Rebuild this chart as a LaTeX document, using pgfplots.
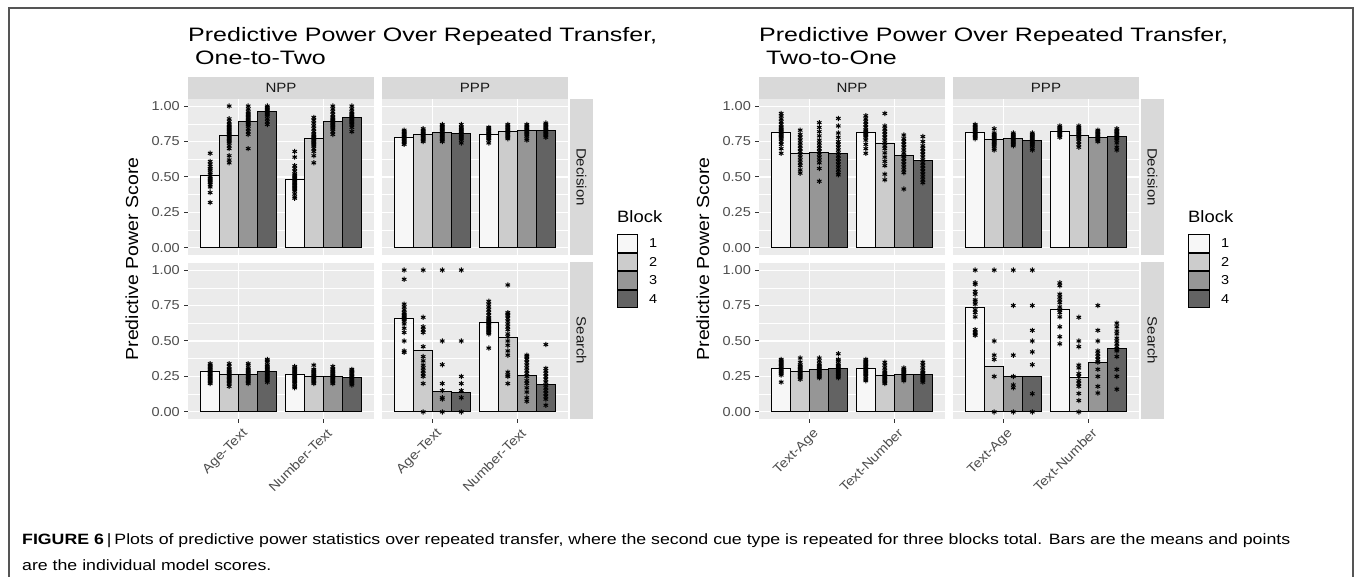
\documentclass[border=0pt]{standalone}
\usepackage{fontspec}
\setmainfont{Liberation Sans}[FakeStretch=1.12]
\newfontfamily\capfont{Liberation Sans}
\usepackage{graphicx}
\usepackage{pgfplots}
\pgfplotsset{compat=1.18}
\definecolor{panelbg}{HTML}{EBEBEB}
\definecolor{stripbg}{HTML}{D9D9D9}
\definecolor{tickc}{HTML}{333333}
\definecolor{tickl}{HTML}{4D4D4D}
\definecolor{stript}{HTML}{1A1A1A}
\definecolor{frame}{HTML}{555555}
\definecolor{b1}{HTML}{F7F7F7}
\definecolor{b2}{HTML}{CCCCCC}
\definecolor{b3}{HTML}{969696}
\definecolor{b4}{HTML}{636363}
\newcommand\fs[1]{\fontsize{#1}{#1}\selectfont}
\newcommand\ptitle[1]{\resizebox{469bp}{\height}{\fontsize{19.5}{23}\selectfont\begin{tabular}[t]{@{}l@{}}Predictive Power Over Repeated Transfer,\\\ #1\end{tabular}}}
\pgfplotsset{
 gpanel/.style={
  scale only axis, width=186bp, height=156bp,
  xmin=0.4, xmax=2.6, ymin=-0.05, ymax=1.05,
  axis background/.style={fill=panelbg},
  axis line style={draw=none},
  xtick={1,2}, ytick={0,0.25,0.5,0.75,1},
  minor ytick={0.125,0.375,0.625,0.875},
  xmajorgrids, ymajorgrids, yminorgrids,
  major grid style={draw=white, line width=1.1bp},
  minor grid style={draw=white, line width=0.55bp},
  tick align=outside, tick pos=left,
  major tick length=4bp, minor tick length=0pt,
  tick style={draw=tickc, line width=1bp},
  minor tick style={draw=none},
  xticklabels={}, yticklabels={},
  /pgf/number format/assume math mode=true,
  anchor=south west,
 },
 noxt/.style={xtick style={draw=none}},
 noyt/.style={ytick style={draw=none}},
 ylab/.style={yticklabels={0.00,0.25,0.50,0.75,1.00},
   yticklabel style={font=\fs{13}, text=tickl, inner sep=1bp, xshift=-3bp}},
 xlab/.style={xticklabels={#1},
   xticklabel style={font=\fs{13}, text=tickl, rotate=45, anchor=north east, inner sep=1bp, yshift=-4bp}},
 bar1/.style={ybar, bar width=0.225, bar shift=0pt, fill=b1, draw=black, line width=1bp},
 bar2/.style={ybar, bar width=0.225, bar shift=0pt, fill=b2, draw=black, line width=1bp},
 bar3/.style={ybar, bar width=0.225, bar shift=0pt, fill=b3, draw=black, line width=1bp},
 bar4/.style={ybar, bar width=0.225, bar shift=0pt, fill=b4, draw=black, line width=1bp},
 pts/.style={only marks, mark=asterisk, mark size=2.6bp, mark options={draw=black, line width=1bp}},
}
\begin{document}
\begin{tikzpicture}[x=1bp,y=1bp]
\useasboundingbox (0,0) rectangle (1355,577);
% frame
\draw[frame, line width=1.5bp] (9,0) -- (9,569) -- (1353,569) -- (1353,0);

% ================= LEFT CHART =================
\node[anchor=base west, inner sep=0] at (188,535) {\ptitle{One-to-Two}};
\node[rotate=90] at (132,318) {\fs{17.5}Predictive Power Score};
% strips
\fill[stripbg] (188,478) rectangle (374,500);
\fill[stripbg] (382,478) rectangle (568,500);
\node[text=stript] at (281,489) {\fs{13.5}NPP};
\node[text=stript] at (475,489) {\fs{13.5}PPP};
\fill[stripbg] (570,322) rectangle (593,478);
\fill[stripbg] (570,158) rectangle (593,315);
\node[text=stript, rotate=-90] at (581.5,400) {\fs{13.5}Decision};
\node[text=stript, rotate=-90] at (581.5,236.5) {\fs{13.5}Search};

% Decision NPP
\begin{axis}[gpanel, at={(188bp,322bp)}, noxt, ylab]
\addplot[bar1] coordinates {(0.6625,0.510) (1.6625,0.484)};
\addplot[bar2] coordinates {(0.8875,0.796) (1.8875,0.772)};
\addplot[bar3] coordinates {(1.1125,0.894) (2.1125,0.894)};
\addplot[bar4] coordinates {(1.3375,0.960) (2.3375,0.918)};
\addplot[pts] coordinates {(0.6625,0.667)(0.6625,0.61)(0.6625,0.59)(0.6625,0.574)(0.6625,0.56)(0.6625,0.55)(0.6625,0.53)(0.6625,0.52)(0.6625,0.50)(0.6625,0.49)(0.6625,0.48)(0.6625,0.47)(0.6625,0.46)(0.6625,0.445)(0.6625,0.43)(0.6625,0.39)(0.6625,0.32)
(0.8875,1.0)(0.8875,0.91)(0.8875,0.89)(0.8875,0.87)(0.8875,0.86)(0.8875,0.85)(0.8875,0.84)(0.8875,0.83)(0.8875,0.82)(0.8875,0.81)(0.8875,0.80)(0.8875,0.79)(0.8875,0.78)(0.8875,0.77)(0.8875,0.76)(0.8875,0.75)(0.8875,0.74)(0.8875,0.72)(0.8875,0.70)(0.8875,0.65)(0.8875,0.62)(0.8875,0.60)
(1.1125,1.0)(1.1125,0.98)(1.1125,0.96)(1.1125,0.95)(1.1125,0.94)(1.1125,0.93)(1.1125,0.92)(1.1125,0.91)(1.1125,0.90)(1.1125,0.89)(1.1125,0.88)(1.1125,0.87)(1.1125,0.86)(1.1125,0.84)(1.1125,0.82)(1.1125,0.80)(1.1125,0.70)
(1.3375,1.0)(1.3375,0.99)(1.3375,0.98)(1.3375,0.97)(1.3375,0.96)(1.3375,0.95)(1.3375,0.94)(1.3375,0.93)(1.3375,0.91)(1.3375,0.89)(1.3375,0.87)
(1.6625,0.68)(1.6625,0.64)(1.6625,0.58)(1.6625,0.56)(1.6625,0.54)(1.6625,0.52)(1.6625,0.51)(1.6625,0.50)(1.6625,0.49)(1.6625,0.48)(1.6625,0.47)(1.6625,0.46)(1.6625,0.45)(1.6625,0.44)(1.6625,0.43)(1.6625,0.42)(1.6625,0.41)(1.6625,0.40)(1.6625,0.38)(1.6625,0.36)(1.6625,0.35)
(1.8875,0.92)(1.8875,0.90)(1.8875,0.88)(1.8875,0.86)(1.8875,0.84)(1.8875,0.82)(1.8875,0.80)(1.8875,0.79)(1.8875,0.78)(1.8875,0.77)(1.8875,0.76)(1.8875,0.75)(1.8875,0.74)(1.8875,0.73)(1.8875,0.72)(1.8875,0.70)(1.8875,0.68)(1.8875,0.65)(1.8875,0.60)
(2.1125,1.0)(2.1125,0.98)(2.1125,0.96)(2.1125,0.94)(2.1125,0.92)(2.1125,0.91)(2.1125,0.90)(2.1125,0.89)(2.1125,0.88)(2.1125,0.87)(2.1125,0.86)(2.1125,0.85)(2.1125,0.84)(2.1125,0.82)(2.1125,0.80)
(2.3375,1.0)(2.3375,0.98)(2.3375,0.96)(2.3375,0.95)(2.3375,0.94)(2.3375,0.93)(2.3375,0.92)(2.3375,0.91)(2.3375,0.90)(2.3375,0.89)(2.3375,0.88)(2.3375,0.87)(2.3375,0.85)(2.3375,0.82)};
\end{axis}

% Decision PPP
\begin{axis}[gpanel, at={(382bp,322bp)}, noxt, noyt]
\addplot[bar1] coordinates {(0.6625,0.780) (1.6625,0.800)};
\addplot[bar2] coordinates {(0.8875,0.800) (1.8875,0.820)};
\addplot[bar3] coordinates {(1.1125,0.815) (2.1125,0.827)};
\addplot[bar4] coordinates {(1.3375,0.808) (2.3375,0.831)};
\addplot[pts] coordinates {(0.6625,0.83)(0.6625,0.82)(0.6625,0.81)(0.6625,0.80)(0.6625,0.79)(0.6625,0.78)(0.6625,0.77)(0.6625,0.76)(0.6625,0.75)(0.6625,0.74)(0.6625,0.73)
(0.8875,0.84)(0.8875,0.83)(0.8875,0.82)(0.8875,0.81)(0.8875,0.80)(0.8875,0.79)(0.8875,0.78)(0.8875,0.77)(0.8875,0.76)(0.8875,0.75)
(1.1125,0.87)(1.1125,0.86)(1.1125,0.85)(1.1125,0.84)(1.1125,0.83)(1.1125,0.82)(1.1125,0.81)(1.1125,0.80)(1.1125,0.79)(1.1125,0.78)(1.1125,0.77)(1.1125,0.76)(1.1125,0.75)
(1.3375,0.87)(1.3375,0.85)(1.3375,0.84)(1.3375,0.83)(1.3375,0.82)(1.3375,0.81)(1.3375,0.80)(1.3375,0.79)(1.3375,0.78)(1.3375,0.77)(1.3375,0.76)(1.3375,0.74)
(1.6625,0.85)(1.6625,0.84)(1.6625,0.83)(1.6625,0.82)(1.6625,0.81)(1.6625,0.80)(1.6625,0.79)(1.6625,0.78)(1.6625,0.77)(1.6625,0.76)(1.6625,0.74)
(1.8875,0.87)(1.8875,0.86)(1.8875,0.85)(1.8875,0.84)(1.8875,0.83)(1.8875,0.82)(1.8875,0.81)(1.8875,0.80)(1.8875,0.79)(1.8875,0.78)(1.8875,0.77)
(2.1125,0.87)(2.1125,0.86)(2.1125,0.85)(2.1125,0.84)(2.1125,0.83)(2.1125,0.82)(2.1125,0.81)(2.1125,0.80)(2.1125,0.79)(2.1125,0.77)(2.1125,0.76)
(2.3375,0.88)(2.3375,0.87)(2.3375,0.86)(2.3375,0.85)(2.3375,0.84)(2.3375,0.83)(2.3375,0.82)(2.3375,0.81)(2.3375,0.80)(2.3375,0.79)(2.3375,0.78)};
\end{axis}

% Search NPP
\begin{axis}[gpanel, at={(188bp,158bp)}, ylab, xlab={Age-Text,Number-Text}]
\addplot[bar1] coordinates {(0.6625,0.284) (1.6625,0.263)};
\addplot[bar2] coordinates {(0.8875,0.265) (1.8875,0.253)};
\addplot[bar3] coordinates {(1.1125,0.267) (2.1125,0.249)};
\addplot[bar4] coordinates {(1.3375,0.288) (2.3375,0.244)};
\addplot[pts] coordinates {(0.6625,0.34)(0.6625,0.33)(0.6625,0.32)(0.6625,0.31)(0.6625,0.30)(0.6625,0.29)(0.6625,0.28)(0.6625,0.27)(0.6625,0.26)(0.6625,0.25)(0.6625,0.24)(0.6625,0.23)(0.6625,0.22)(0.6625,0.21)(0.6625,0.20)
(0.8875,0.34)(0.8875,0.32)(0.8875,0.30)(0.8875,0.29)(0.8875,0.28)(0.8875,0.27)(0.8875,0.26)(0.8875,0.25)(0.8875,0.24)(0.8875,0.23)(0.8875,0.22)(0.8875,0.21)(0.8875,0.20)(0.8875,0.18)
(1.1125,0.34)(1.1125,0.33)(1.1125,0.31)(1.1125,0.30)(1.1125,0.29)(1.1125,0.28)(1.1125,0.27)(1.1125,0.26)(1.1125,0.25)(1.1125,0.24)(1.1125,0.23)(1.1125,0.22)(1.1125,0.21)(1.1125,0.20)
(1.3375,0.37)(1.3375,0.36)(1.3375,0.35)(1.3375,0.33)(1.3375,0.32)(1.3375,0.31)(1.3375,0.30)(1.3375,0.29)(1.3375,0.28)(1.3375,0.27)(1.3375,0.26)(1.3375,0.25)(1.3375,0.24)(1.3375,0.23)(1.3375,0.22)(1.3375,0.21)
(1.6625,0.32)(1.6625,0.31)(1.6625,0.30)(1.6625,0.29)(1.6625,0.28)(1.6625,0.27)(1.6625,0.26)(1.6625,0.25)(1.6625,0.24)(1.6625,0.23)(1.6625,0.22)(1.6625,0.21)(1.6625,0.20)(1.6625,0.18)(1.6625,0.17)
(1.8875,0.33)(1.8875,0.30)(1.8875,0.29)(1.8875,0.28)(1.8875,0.27)(1.8875,0.26)(1.8875,0.25)(1.8875,0.24)(1.8875,0.23)(1.8875,0.22)(1.8875,0.21)(1.8875,0.20)
(2.1125,0.32)(2.1125,0.30)(2.1125,0.29)(2.1125,0.28)(2.1125,0.27)(2.1125,0.26)(2.1125,0.25)(2.1125,0.24)(2.1125,0.23)(2.1125,0.22)(2.1125,0.21)(2.1125,0.20)
(2.3375,0.30)(2.3375,0.29)(2.3375,0.28)(2.3375,0.27)(2.3375,0.26)(2.3375,0.25)(2.3375,0.24)(2.3375,0.23)(2.3375,0.22)(2.3375,0.21)(2.3375,0.20)(2.3375,0.19)};
\end{axis}

% Search PPP
\begin{axis}[gpanel, at={(382bp,158bp)}, noyt, xlab={Age-Text,Number-Text}]
\addplot[bar1] coordinates {(0.6625,0.658) (1.6625,0.628)};
\addplot[bar2] coordinates {(0.8875,0.430) (1.8875,0.528)};
\addplot[bar3] coordinates {(1.1125,0.147) (2.1125,0.260)};
\addplot[bar4] coordinates {(1.3375,0.135) (2.3375,0.190)};
\addplot[pts] coordinates {(0.6625,1.0)(0.6625,0.935)(0.6625,0.76)(0.6625,0.74)(0.6625,0.72)(0.6625,0.70)(0.6625,0.69)(0.6625,0.68)(0.6625,0.67)(0.6625,0.66)(0.6625,0.65)(0.6625,0.64)(0.6625,0.62)(0.6625,0.59)(0.6625,0.56)(0.6625,0.50)(0.6625,0.43)(0.6625,0.42)
(0.8875,1.0)(0.8875,0.667)(0.8875,0.60)(0.8875,0.58)(0.8875,0.56)(0.8875,0.46)(0.8875,0.39)(0.8875,0.36)(0.8875,0.33)(0.8875,0.31)(0.8875,0.29)(0.8875,0.27)(0.8875,0.25)(0.8875,0.20)(0.8875,0.0)
(1.1125,1.0)(1.1125,0.5)(1.1125,0.333)(1.1125,0.2)(1.1125,0.15)(1.1125,0.1)(1.1125,0.09)(1.1125,0.0)
(1.3375,1.0)(1.3375,0.5)(1.3375,0.25)(1.3375,0.2)(1.3375,0.15)(1.3375,0.1)(1.3375,0.0)
(1.6625,0.78)(1.6625,0.76)(1.6625,0.74)(1.6625,0.72)(1.6625,0.70)(1.6625,0.68)(1.6625,0.66)(1.6625,0.65)(1.6625,0.64)(1.6625,0.63)(1.6625,0.62)(1.6625,0.61)(1.6625,0.60)(1.6625,0.59)(1.6625,0.58)(1.6625,0.57)(1.6625,0.56)(1.6625,0.55)(1.6625,0.45)
(1.8875,0.895)(1.8875,0.70)(1.8875,0.69)(1.8875,0.68)(1.8875,0.66)(1.8875,0.64)(1.8875,0.62)(1.8875,0.60)(1.8875,0.58)(1.8875,0.55)(1.8875,0.53)(1.8875,0.50)(1.8875,0.47)(1.8875,0.43)(1.8875,0.40)(1.8875,0.28)(1.8875,0.26)(1.8875,0.25)(1.8875,0.20)
(2.1125,0.40)(2.1125,0.39)(2.1125,0.37)(2.1125,0.35)(2.1125,0.33)(2.1125,0.31)(2.1125,0.29)(2.1125,0.27)(2.1125,0.25)(2.1125,0.22)(2.1125,0.20)(2.1125,0.17)(2.1125,0.14)(2.1125,0.10)(2.1125,0.075)
(2.3375,0.475)(2.3375,0.307)(2.3375,0.29)(2.3375,0.27)(2.3375,0.25)(2.3375,0.23)(2.3375,0.21)(2.3375,0.19)(2.3375,0.17)(2.3375,0.15)(2.3375,0.13)(2.3375,0.11)(2.3375,0.09)(2.3375,0.047)};
\end{axis}

% legend left
\node[anchor=west, inner sep=0] at (617,360) {\fs{16.5}Block};
\foreach \c/\yt/\yb/\l in {b1/343/324.5/1, b2/324.5/306/2, b3/306/287.5/3, b4/287.5/269/4}{
  \filldraw[fill=\c, draw=black, line width=0.9bp] (617.5,\yb+0.5) rectangle (637.5,\yt-0.5);
  \node[anchor=west, inner sep=0] at (649,{(\yt+\yb)/2}) {\fs{13}\l};
}

% ================= RIGHT CHART =================
\node[anchor=base west, inner sep=0] at (759,535) {\ptitle{Two-to-One}};
\node[rotate=90] at (703,318) {\fs{17.5}Predictive Power Score};
\fill[stripbg] (759,478) rectangle (945,500);
\fill[stripbg] (953,478) rectangle (1139,500);
\node[text=stript] at (852,489) {\fs{13.5}NPP};
\node[text=stript] at (1046,489) {\fs{13.5}PPP};
\fill[stripbg] (1141,322) rectangle (1164,478);
\fill[stripbg] (1141,158) rectangle (1164,315);
\node[text=stript, rotate=-90] at (1152.5,400) {\fs{13.5}Decision};
\node[text=stript, rotate=-90] at (1152.5,236.5) {\fs{13.5}Search};

% Decision NPP
\begin{axis}[gpanel, at={(759bp,322bp)}, noxt, ylab]
\addplot[bar1] coordinates {(0.6625,0.813) (1.6625,0.813)};
\addplot[bar2] coordinates {(0.8875,0.667) (1.8875,0.733)};
\addplot[bar3] coordinates {(1.1125,0.672) (2.1125,0.653)};
\addplot[bar4] coordinates {(1.3375,0.667) (2.3375,0.614)};
\addplot[pts] coordinates {(0.6625,0.948)(0.6625,0.93)(0.6625,0.91)(0.6625,0.89)(0.6625,0.87)(0.6625,0.85)(0.6625,0.84)(0.6625,0.83)(0.6625,0.82)(0.6625,0.81)(0.6625,0.80)(0.6625,0.79)(0.6625,0.78)(0.6625,0.77)(0.6625,0.75)(0.6625,0.73)(0.6625,0.70)(0.6625,0.667)
(0.8875,0.83)(0.8875,0.80)(0.8875,0.78)(0.8875,0.76)(0.8875,0.74)(0.8875,0.72)(0.8875,0.70)(0.8875,0.68)(0.8875,0.66)(0.8875,0.64)(0.8875,0.62)(0.8875,0.60)(0.8875,0.58)(0.8875,0.55)(0.8875,0.527)
(1.1125,0.883)(1.1125,0.85)(1.1125,0.82)(1.1125,0.79)(1.1125,0.76)(1.1125,0.74)(1.1125,0.72)(1.1125,0.70)(1.1125,0.68)(1.1125,0.66)(1.1125,0.64)(1.1125,0.62)(1.1125,0.60)(1.1125,0.56)(1.1125,0.47)
(1.3375,0.913)(1.3375,0.86)(1.3375,0.81)(1.3375,0.78)(1.3375,0.75)(1.3375,0.73)(1.3375,0.71)(1.3375,0.69)(1.3375,0.67)(1.3375,0.65)(1.3375,0.63)(1.3375,0.61)(1.3375,0.59)(1.3375,0.57)(1.3375,0.55)(1.3375,0.53)(1.3375,0.515)
(1.6625,0.932)(1.6625,0.91)(1.6625,0.89)(1.6625,0.87)(1.6625,0.85)(1.6625,0.83)(1.6625,0.82)(1.6625,0.81)(1.6625,0.80)(1.6625,0.79)(1.6625,0.78)(1.6625,0.76)(1.6625,0.73)(1.6625,0.70)(1.6625,0.667)
(1.8875,0.948)(1.8875,0.86)(1.8875,0.84)(1.8875,0.82)(1.8875,0.80)(1.8875,0.78)(1.8875,0.76)(1.8875,0.74)(1.8875,0.72)(1.8875,0.70)(1.8875,0.67)(1.8875,0.64)(1.8875,0.61)(1.8875,0.58)(1.8875,0.52)(1.8875,0.48)
(2.1125,0.796)(2.1125,0.77)(2.1125,0.75)(2.1125,0.73)(2.1125,0.71)(2.1125,0.69)(2.1125,0.67)(2.1125,0.65)(2.1125,0.63)(2.1125,0.61)(2.1125,0.59)(2.1125,0.57)(2.1125,0.55)(2.1125,0.53)(2.1125,0.415)
(2.3375,0.785)(2.3375,0.75)(2.3375,0.72)(2.3375,0.70)(2.3375,0.68)(2.3375,0.66)(2.3375,0.64)(2.3375,0.62)(2.3375,0.60)(2.3375,0.58)(2.3375,0.56)(2.3375,0.54)(2.3375,0.52)(2.3375,0.50)(2.3375,0.48)(2.3375,0.46)};
\end{axis}

% Decision PPP
\begin{axis}[gpanel, at={(953bp,322bp)}, noxt, noyt]
\addplot[bar1] coordinates {(0.6625,0.817) (1.6625,0.824)};
\addplot[bar2] coordinates {(0.8875,0.761) (1.8875,0.792)};
\addplot[bar3] coordinates {(1.1125,0.770) (2.1125,0.780)};
\addplot[bar4] coordinates {(1.3375,0.754) (2.3375,0.785)};
\addplot[pts] coordinates {(0.6625,0.87)(0.6625,0.86)(0.6625,0.85)(0.6625,0.84)(0.6625,0.83)(0.6625,0.82)(0.6625,0.81)(0.6625,0.80)(0.6625,0.79)(0.6625,0.78)(0.6625,0.77)
(0.8875,0.84)(0.8875,0.81)(0.8875,0.80)(0.8875,0.79)(0.8875,0.78)(0.8875,0.77)(0.8875,0.76)(0.8875,0.75)(0.8875,0.74)(0.8875,0.73)(0.8875,0.72)(0.8875,0.70)(0.8875,0.69)
(1.1125,0.81)(1.1125,0.80)(1.1125,0.79)(1.1125,0.78)(1.1125,0.77)(1.1125,0.76)(1.1125,0.75)(1.1125,0.74)(1.1125,0.73)(1.1125,0.72)
(1.3375,0.81)(1.3375,0.80)(1.3375,0.79)(1.3375,0.78)(1.3375,0.77)(1.3375,0.76)(1.3375,0.75)(1.3375,0.74)(1.3375,0.73)(1.3375,0.72)(1.3375,0.70)(1.3375,0.69)
(1.6625,0.86)(1.6625,0.85)(1.6625,0.84)(1.6625,0.83)(1.6625,0.82)(1.6625,0.81)(1.6625,0.80)(1.6625,0.79)(1.6625,0.78)
(1.8875,0.86)(1.8875,0.85)(1.8875,0.84)(1.8875,0.83)(1.8875,0.82)(1.8875,0.81)(1.8875,0.80)(1.8875,0.79)(1.8875,0.78)(1.8875,0.77)(1.8875,0.75)(1.8875,0.73)(1.8875,0.71)
(2.1125,0.83)(2.1125,0.82)(2.1125,0.81)(2.1125,0.80)(2.1125,0.79)(2.1125,0.78)(2.1125,0.77)(2.1125,0.76)(2.1125,0.75)
(2.3375,0.84)(2.3375,0.83)(2.3375,0.82)(2.3375,0.81)(2.3375,0.80)(2.3375,0.79)(2.3375,0.78)(2.3375,0.77)(2.3375,0.76)(2.3375,0.74)(2.3375,0.71)(2.3375,0.69)};
\end{axis}

% Search NPP
\begin{axis}[gpanel, at={(759bp,158bp)}, ylab, xlab={Text-Age,Text-Number}]
\addplot[bar1] coordinates {(0.6625,0.309) (1.6625,0.305)};
\addplot[bar2] coordinates {(0.8875,0.288) (1.8875,0.256)};
\addplot[bar3] coordinates {(1.1125,0.300) (2.1125,0.263)};
\addplot[bar4] coordinates {(1.3375,0.309) (2.3375,0.263)};
\addplot[pts] coordinates {(0.6625,0.37)(0.6625,0.36)(0.6625,0.35)(0.6625,0.34)(0.6625,0.33)(0.6625,0.32)(0.6625,0.31)(0.6625,0.30)(0.6625,0.29)(0.6625,0.28)(0.6625,0.27)(0.6625,0.26)(0.6625,0.21)
(0.8875,0.38)(0.8875,0.35)(0.8875,0.33)(0.8875,0.32)(0.8875,0.31)(0.8875,0.30)(0.8875,0.29)(0.8875,0.28)(0.8875,0.27)(0.8875,0.26)(0.8875,0.25)(0.8875,0.24)(0.8875,0.23)
(1.1125,0.38)(1.1125,0.36)(1.1125,0.34)(1.1125,0.33)(1.1125,0.32)(1.1125,0.31)(1.1125,0.30)(1.1125,0.29)(1.1125,0.28)(1.1125,0.27)(1.1125,0.26)(1.1125,0.25)(1.1125,0.24)
(1.3375,0.41)(1.3375,0.37)(1.3375,0.36)(1.3375,0.34)(1.3375,0.33)(1.3375,0.32)(1.3375,0.31)(1.3375,0.30)(1.3375,0.29)(1.3375,0.28)(1.3375,0.27)(1.3375,0.26)(1.3375,0.25)(1.3375,0.24)
(1.6625,0.37)(1.6625,0.36)(1.6625,0.35)(1.6625,0.34)(1.6625,0.33)(1.6625,0.32)(1.6625,0.31)(1.6625,0.30)(1.6625,0.29)(1.6625,0.28)(1.6625,0.27)(1.6625,0.26)(1.6625,0.25)(1.6625,0.23)(1.6625,0.22)
(1.8875,0.35)(1.8875,0.33)(1.8875,0.31)(1.8875,0.29)(1.8875,0.28)(1.8875,0.27)(1.8875,0.26)(1.8875,0.25)(1.8875,0.24)(1.8875,0.23)(1.8875,0.22)(1.8875,0.21)(1.8875,0.20)
(2.1125,0.31)(2.1125,0.30)(2.1125,0.29)(2.1125,0.28)(2.1125,0.27)(2.1125,0.26)(2.1125,0.25)(2.1125,0.24)(2.1125,0.23)(2.1125,0.22)
(2.3375,0.35)(2.3375,0.33)(2.3375,0.31)(2.3375,0.29)(2.3375,0.28)(2.3375,0.27)(2.3375,0.26)(2.3375,0.25)(2.3375,0.24)(2.3375,0.23)(2.3375,0.22)(2.3375,0.21)};
\end{axis}

% Search PPP
\begin{axis}[gpanel, at={(953bp,158bp)}, noyt, xlab={Text-Age,Text-Number}]
\addplot[bar1] coordinates {(0.6625,0.733) (1.6625,0.721)};
\addplot[bar2] coordinates {(0.8875,0.323) (1.8875,0.244)};
\addplot[bar3] coordinates {(1.1125,0.249) (2.1125,0.351)};
\addplot[bar4] coordinates {(1.3375,0.253) (2.3375,0.447)};
\addplot[pts] coordinates {(0.6625,1.0)(0.6625,0.91)(0.6625,0.90)(0.6625,0.85)(0.6625,0.83)(0.6625,0.79)(0.6625,0.78)(0.6625,0.76)(0.6625,0.72)(0.6625,0.70)(0.6625,0.67)(0.6625,0.58)(0.6625,0.56)(0.6625,0.55)(0.6625,0.54)
(0.8875,1.0)(0.8875,0.5)(0.8875,0.40)(0.8875,0.37)(0.8875,0.25)(0.8875,0.0)
(1.1125,1.0)(1.1125,0.75)(1.1125,0.40)(1.1125,0.25)(1.1125,0.19)(1.1125,0.17)(1.1125,0.0)
(1.3375,1.0)(1.3375,0.75)(1.3375,0.575)(1.3375,0.5)(1.3375,0.423)(1.3375,0.333)(1.3375,0.128)(1.3375,0.0)
(1.6625,0.91)(1.6625,0.89)(1.6625,0.83)(1.6625,0.81)(1.6625,0.79)(1.6625,0.77)(1.6625,0.74)(1.6625,0.72)(1.6625,0.70)(1.6625,0.67)(1.6625,0.60)(1.6625,0.53)(1.6625,0.48)
(1.8875,0.667)(1.8875,0.5)(1.8875,0.46)(1.8875,0.33)(1.8875,0.31)(1.8875,0.27)(1.8875,0.25)(1.8875,0.22)(1.8875,0.20)(1.8875,0.18)(1.8875,0.13)(1.8875,0.08)(1.8875,0.0)
(2.1125,0.75)(2.1125,0.575)(2.1125,0.50)(2.1125,0.43)(2.1125,0.41)(2.1125,0.39)(2.1125,0.37)(2.1125,0.35)(2.1125,0.30)(2.1125,0.25)(2.1125,0.18)(2.1125,0.133)
(2.3375,0.626)(2.3375,0.60)(2.3375,0.57)(2.3375,0.55)(2.3375,0.52)(2.3375,0.50)(2.3375,0.48)(2.3375,0.46)(2.3375,0.44)(2.3375,0.43)(2.3375,0.39)(2.3375,0.30)(2.3375,0.25)(2.3375,0.16)};
\end{axis}

% legend right
\node[anchor=west, inner sep=0] at (1188,360) {\fs{16.5}Block};
\foreach \c/\yt/\yb/\l in {b1/343/324.5/1, b2/324.5/306/2, b3/306/287.5/3, b4/287.5/269/4}{
  \filldraw[fill=\c, draw=black, line width=0.9bp] (1188.5,\yb+0.5) rectangle (1209.5,\yt-0.5);
  \node[anchor=west, inner sep=0] at (1221,{(\yt+\yb)/2}) {\fs{13}\l};
}

% caption
\node[anchor=base west, inner sep=0] at (22,32) {\resizebox{1268bp}{\height}{\capfont\fontsize{15}{26}\selectfont\begin{tabular}[t]{@{}l@{}}\textbf{FIGURE 6}\,|\,Plots of predictive power statistics over repeated transfer, where the second cue type is repeated for three blocks total. Bars are the means and points\\ are the individual model scores.\end{tabular}}};
\end{tikzpicture}
\end{document}
